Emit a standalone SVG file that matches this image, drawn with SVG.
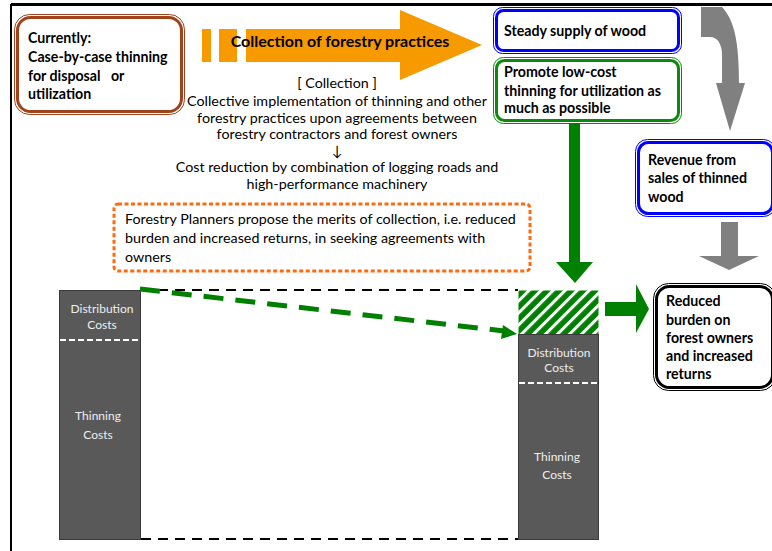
<svg xmlns="http://www.w3.org/2000/svg" width="772" height="551" viewBox="0 0 772 551">
<style>
.b{font-family:Lato,"Liberation Sans",sans-serif;font-weight:bold;font-size:14.2px;fill:#000;white-space:pre}
.r{font-family:Lato,"Liberation Sans",sans-serif;font-size:14.3px;fill:#000}
.w{font-family:Lato,"Liberation Sans",sans-serif;font-size:12px;fill:#eeeeee;text-anchor:middle}
.c{text-anchor:middle}
.thin{fill:none;stroke-width:1}
.thick{fill:#fff;stroke-width:3}
</style>
<defs>
<pattern id="hatch" patternUnits="userSpaceOnUse" width="8.5" height="8.5" patternTransform="rotate(45)">
<rect width="8.5" height="8.5" fill="#008000"/>
<rect x="0" y="0" width="3" height="8.5" fill="#fff"/>
</pattern>
</defs>
<rect width="772" height="551" fill="#fff"/>
<g id="frame">
<line x1="11" y1="4.5" x2="772" y2="4.5" stroke="#000" stroke-width="3"/>
<line x1="11" y1="4" x2="11" y2="551" stroke="#000" stroke-width="2"/>
</g>
<g id="current">
<rect x="14.5" y="14.5" width="170" height="100" rx="15" class="thin" stroke="#A0431A"/>
<rect x="17.5" y="17.5" width="164" height="94" rx="13" class="thick" stroke="#A0431A"/>
<text class="b" x="28" y="43">Currently:</text>
<text class="b" x="28" y="62">Case-by-case thinning</text>
<text class="b" x="28" y="81">for disposal   or</text>
<text class="b" x="28" y="99">utilization</text>
</g>
<g id="collection-arrow">
<rect x="202" y="29" width="9" height="33" fill="#F79A00"/>
<rect x="219" y="29" width="18" height="33" fill="#F79A00"/>
<polygon points="246,29 400,29 400,10 482,45 400,80 400,62 246,62" fill="#F79A00"/>
<text class="b c" x="340" y="47" style="font-size:16px">Collection of forestry practices</text>
</g>
<g id="collection-text">
<text class="r c" x="337" y="88">[ Collection ]</text>
<text class="r c" x="337" y="106">Collective implementation of thinning and other</text>
<text class="r c" x="337" y="123">forestry practices upon agreements between</text>
<text class="r c" x="337" y="139">forestry contractors and forest owners</text>
<text class="r c" x="337" y="156">↓</text>
<text class="r c" x="337" y="172">Cost reduction by combination of logging roads and</text>
<text class="r c" x="337" y="189">high-performance machinery</text>
</g>
<g id="planners">
<rect x="114" y="204" width="416" height="67" rx="4" fill="none" stroke="#FF6A10" stroke-width="3" stroke-dasharray="4 2.5"/>
<text class="r" x="125" y="224">Forestry Planners propose the merits of collection, i.e. reduced</text>
<text class="r" x="125" y="243">burden and increased returns, in seeking agreements with</text>
<text class="r" x="125" y="262">owners</text>
</g>
<g id="steady">
<rect x="493.5" y="7.5" width="188" height="46" rx="9" class="thin" stroke="#0000FF"/>
<rect x="496.5" y="10.5" width="182" height="40" rx="7" class="thick" stroke="#0000FF"/>
<text class="b" x="504" y="36">Steady supply of wood</text>
</g>
<g id="promote">
<rect x="493.5" y="57.5" width="188" height="66" rx="10" class="thin" stroke="#0B8A0B"/>
<rect x="496.5" y="60.5" width="182" height="60" rx="8" class="thick" stroke="#0B8A0B"/>
<text class="b" x="504" y="77">Promote low-cost</text>
<text class="b" x="504" y="96">thinning for utilization as</text>
<text class="b" x="504" y="113">much as possible</text>
</g>
<g id="revenue">
<rect x="635.5" y="139.5" width="140" height="77" rx="12" class="thin" stroke="#0000FF"/>
<rect x="638.5" y="142.5" width="134" height="71" rx="10" class="thick" stroke="#0000FF"/>
<text class="b" x="648" y="165">Revenue from</text>
<text class="b" x="648" y="183">sales of thinned</text>
<text class="b" x="648" y="202">wood</text>
</g>
<g id="reduced">
<rect x="653.5" y="283.5" width="122" height="107" rx="15" class="thin" stroke="#000"/>
<rect x="656.5" y="286.5" width="116" height="101" rx="13" class="thick" stroke="#000"/>
<text class="b" x="666" y="306">Reduced</text>
<text class="b" x="666" y="325">burden on</text>
<text class="b" x="666" y="343">forest owners</text>
<text class="b" x="666" y="361">and increased</text>
<text class="b" x="666" y="379">returns</text>
</g>
<g id="bar-before">
<rect x="59.5" y="290.5" width="81" height="249" fill="#595959" stroke="#3a3a3a" stroke-width="1"/>
<line x1="60" y1="340" x2="140" y2="340" stroke="#fff" stroke-width="2" stroke-dasharray="6 3"/>
<text class="w" x="102" y="313">Distribution</text>
<text class="w" x="102" y="329">Costs</text>
<text class="w" x="98" y="420">Thinning</text>
<text class="w" x="98" y="439">Costs</text>
</g>
<g id="bar-after">
<rect x="518.5" y="290.5" width="80" height="44" fill="url(#hatch)"/>
<rect x="518.5" y="334.5" width="80" height="205" fill="#595959" stroke="#3a3a3a" stroke-width="1"/>
<line x1="519" y1="383" x2="598" y2="383" stroke="#fff" stroke-width="2" stroke-dasharray="6 3"/>
<text class="w" x="559" y="357">Distribution</text>
<text class="w" x="559" y="372">Costs</text>
<text class="w" x="557" y="461">Thinning</text>
<text class="w" x="557" y="479">Costs</text>
</g>
<g id="connectors">
<line x1="141" y1="290" x2="518" y2="290" stroke="#000" stroke-width="2" stroke-dasharray="10 7"/>
<line x1="141" y1="539" x2="518" y2="539" stroke="#000" stroke-width="2" stroke-dasharray="10 7"/>
<line x1="140" y1="289" x2="504" y2="331" stroke="#008000" stroke-width="5" stroke-dasharray="20 12"/>
<polygon points="503,325 517,334 501,339" fill="#008000"/>
<path d="M701,7 L722,7 C734,20 739,40 739,83 L745,83 L730,131 L716,83 L722,83 L722,55 C722,45 718,37 710,37 L701,37 Z" fill="#808080"/>
<rect x="721" y="222" width="17" height="34" fill="#808080"/>
<polygon points="699,256 759,256 729,270" fill="#808080"/>
<rect x="569" y="123" width="11" height="140" fill="#008000"/>
<polygon points="556,262 593,262 575,283" fill="#008000"/>
<rect x="605" y="302" width="33" height="14" fill="#008000"/>
<polygon points="636,284 649,309 636,333" fill="#008000"/>
</g>
</svg>
